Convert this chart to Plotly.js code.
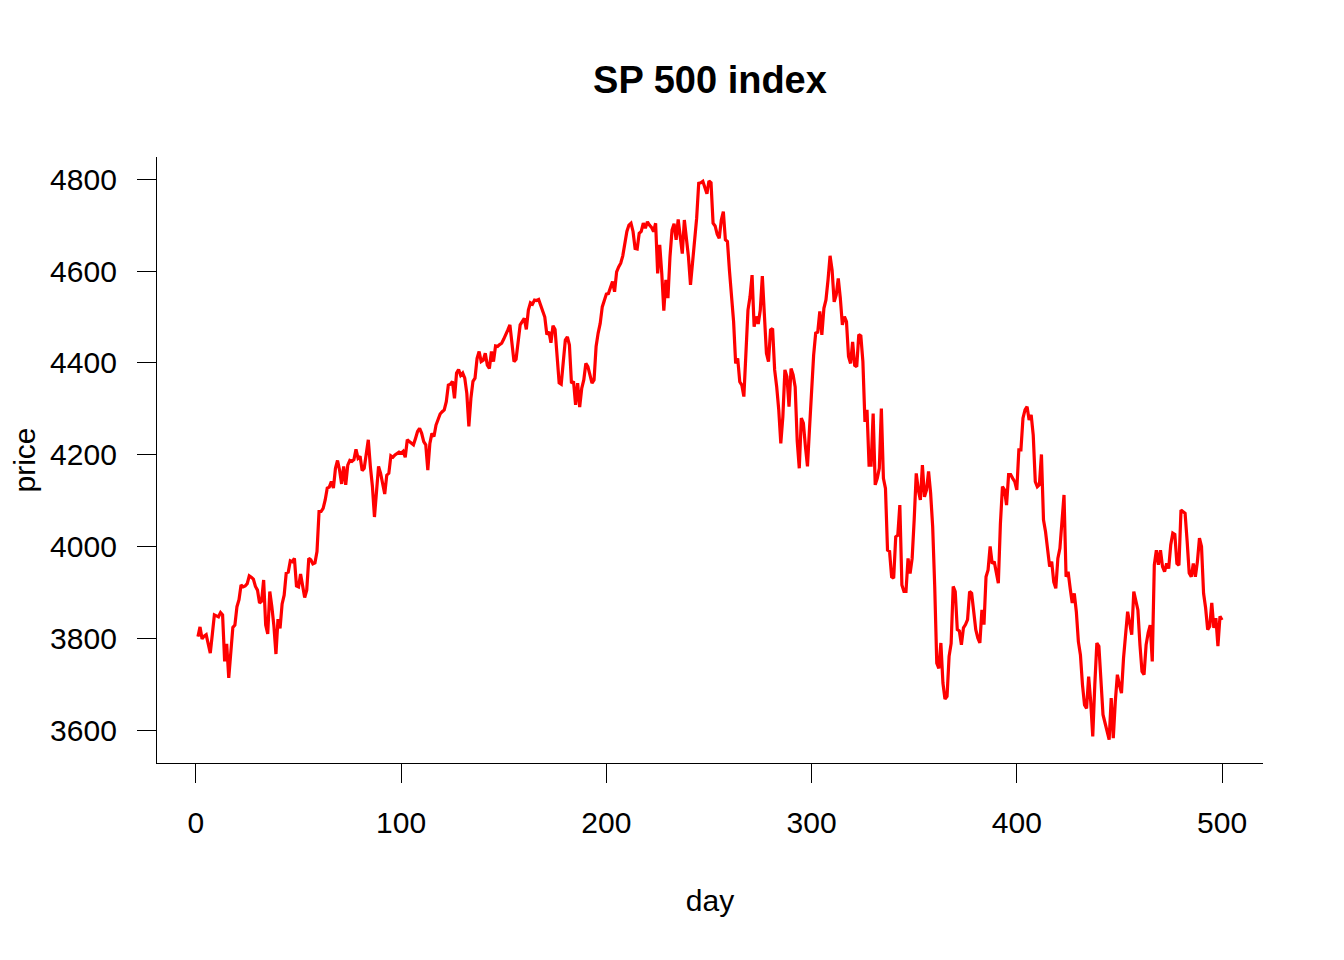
<!DOCTYPE html>
<html>
<head>
<meta charset="utf-8">
<script src="https://cdn.plot.ly/plotly-3.0.1.min.js"></script>
<style>
  html, body { margin: 0; padding: 0; background: #ffffff; }
  #chart { width: 1344px; height: 960px; }
</style>
</head>
<body>
<div id="chart"></div>
<script>
// S&P 500 closing level by day
const price = [
  3805, 3826, 3800, 3806, 3809, 3790, 3769, 3810, 3852, 3850,
  3848, 3857, 3852, 3751, 3789, 3715, 3776, 3825, 3830, 3870,
  3885, 3917, 3913, 3915, 3920, 3937, 3934, 3930, 3914, 3906,
  3878, 3882, 3928, 3830, 3811, 3903, 3870, 3828, 3767, 3843,
  3823, 3876, 3895, 3943, 3945, 3970, 3968, 3975, 3915, 3913,
  3941, 3913, 3890, 3906, 3975, 3972, 3963, 3965, 3990, 4077,
  4077, 4084, 4102, 4128, 4130, 4142, 4128, 4171, 4188, 4167,
  4137, 4175, 4135, 4178, 4188, 4186, 4190, 4212, 4193, 4197,
  4166, 4171, 4200, 4233, 4175, 4132, 4065, 4121, 4175, 4160,
  4132, 4115, 4156, 4160, 4198, 4195, 4200, 4204, 4206, 4204,
  4208, 4195, 4233, 4229, 4225, 4222, 4236, 4251, 4258, 4247,
  4229, 4222, 4167, 4225, 4247, 4240, 4265, 4280, 4289, 4294,
  4298, 4316, 4352, 4354, 4360, 4323, 4378, 4386, 4373, 4378,
  4367, 4334, 4262, 4323, 4360, 4367, 4410, 4425, 4403, 4406,
  4421, 4395, 4388, 4425, 4403, 4437, 4436, 4440, 4443, 4452,
  4464, 4472, 4483, 4435, 4403, 4408, 4450, 4483, 4490, 4497,
  4473, 4515, 4531, 4528, 4537, 4536, 4538, 4525, 4515, 4500,
  4462, 4468, 4444, 4481, 4473, 4414, 4357, 4354, 4399, 4450,
  4457, 4439, 4356, 4360, 4309, 4356, 4304, 4345, 4363, 4399,
  4392, 4374, 4356, 4363, 4436, 4465, 4486, 4522, 4537, 4550,
  4551, 4566, 4577, 4555, 4598, 4609, 4617, 4633, 4660, 4686,
  4700, 4704, 4686, 4649, 4648, 4682, 4686, 4704, 4693, 4707,
  4700, 4695, 4686, 4704, 4595, 4657, 4595, 4514, 4581, 4541,
  4631, 4689, 4703, 4668, 4712, 4675, 4638, 4711, 4675, 4631,
  4570, 4617, 4675, 4715, 4791, 4792, 4795, 4780, 4768, 4796,
  4792, 4704, 4698, 4680, 4671, 4711, 4729, 4668, 4664, 4600,
  4545, 4490, 4399, 4410, 4359, 4352, 4327, 4414, 4515, 4544,
  4591, 4479, 4501, 4485, 4515, 4589, 4508, 4421, 4403, 4472,
  4475, 4385, 4348, 4298, 4225, 4283, 4385, 4370, 4305, 4388,
  4374, 4348, 4230, 4171, 4280, 4269, 4218, 4175, 4258, 4352,
  4417, 4465, 4467, 4512, 4461, 4519, 4537, 4580, 4633, 4602,
  4533, 4548, 4584, 4541, 4483, 4501, 4490, 4414, 4399, 4446,
  4395, 4392, 4462, 4459, 4403, 4272, 4298, 4178, 4178, 4290,
  4135, 4149, 4171, 4301, 4149, 4127, 3993, 3990, 3935, 3932,
  4022, 4025, 4091, 3917, 3903, 3903, 3975, 3942, 3975, 4060,
  4160, 4124, 4102, 4178, 4109, 4124, 4164, 4117, 4044, 3914,
  3747, 3736, 3791, 3704, 3669, 3675, 3762, 3790, 3914, 3903,
  3820, 3817, 3787, 3824, 3831, 3842, 3903, 3899, 3863, 3820,
  3802, 3791, 3863, 3831, 3935, 3950, 4001, 3964, 3968, 3943,
  3921, 4050, 4131, 4124, 4091, 4157, 4157, 4149, 4142, 4124,
  4211, 4211, 4280, 4298, 4305, 4276, 4287, 4243, 4142, 4131,
  4135, 4201, 4059, 4033, 3997, 3957, 3968, 3924, 3910, 3975,
  3997, 4055, 4113, 3935, 3946, 3910, 3878, 3899, 3859, 3794,
  3765, 3700, 3656, 3649, 3718, 3664, 3588, 3700, 3791, 3784,
  3715, 3635, 3617, 3599, 3581, 3671, 3584, 3664, 3722, 3700,
  3682, 3758, 3802, 3859, 3834, 3809, 3903, 3882, 3863, 3787,
  3729, 3722, 3787, 3813, 3830, 3751, 3961, 3993, 3961, 3993,
  3957, 3946, 3964, 3953, 4004, 4030, 4027, 3964, 3960, 4080,
  4077, 4073, 4012, 3943, 3935, 3964, 3935, 3968, 4019, 4001,
  3899, 3867, 3820, 3827, 3878, 3824, 3845, 3784, 3849, 3841
];
const day = price.map((_, i) => i + 1);

const xTicks = [0, 100, 200, 300, 400, 500];
const yTicks = [3600, 3800, 4000, 4200, 4400, 4600, 4800];

const titleText = 'SP 500 index';
const xTitle = 'day';
const yTitle = 'price';

const FONT = '"Liberation Sans", Arial, Helvetica, sans-serif';

const trace = {
  x: day,
  y: price,
  type: 'scatter',
  mode: 'lines',
  line: { color: '#ff0000', width: 3.2 },
  hoverinfo: 'x+y'
};

const axisCommon = {
  showgrid: false,
  zeroline: false,
  showline: true,
  linecolor: '#000000',
  linewidth: 1.3,
  mirror: false,
  ticks: 'outside',
  ticklen: 19,
  tickwidth: 1.3,
  tickcolor: '#000000',
  tickfont: { family: FONT, size: 30, color: '#000000' },
  tickmode: 'array'
};

const layout = {
  width: 1344,
  height: 960,
  paper_bgcolor: '#ffffff',
  plot_bgcolor: '#ffffff',
  margin: { l: 157, r: 81, t: 157, b: 197, pad: 0 },
  showlegend: false,
  font: { family: FONT, color: '#000000' },
  title: {
    text: '<b>' + titleText + '</b>',
    font: { family: FONT, size: 38, color: '#000000' },
    x: 0.5, xref: 'paper', xanchor: 'center',
    y: 1 - 80 / 960, yref: 'container', yanchor: 'middle'
  },
  xaxis: Object.assign({}, axisCommon, {
    range: [-18.96, 519.96],
    tickvals: xTicks,
    ticktext: xTicks.map(String),
    ticklabelstandoff: 14,
    title: { text: xTitle, font: { family: FONT, size: 30, color: '#000000' }, standoff: 51 }
  }),
  yaxis: Object.assign({}, axisCommon, {
    range: [3530, 4848],
    tickvals: yTicks,
    ticktext: yTicks.map(String),
    ticklabelstandoff: 14,
    title: { text: yTitle, font: { family: FONT, size: 30, color: '#000000' }, standoff: 5 }
  })
};

Plotly.newPlot('chart', [trace], layout, { displayModeBar: false, responsive: false });
</script>
</body>
</html>
